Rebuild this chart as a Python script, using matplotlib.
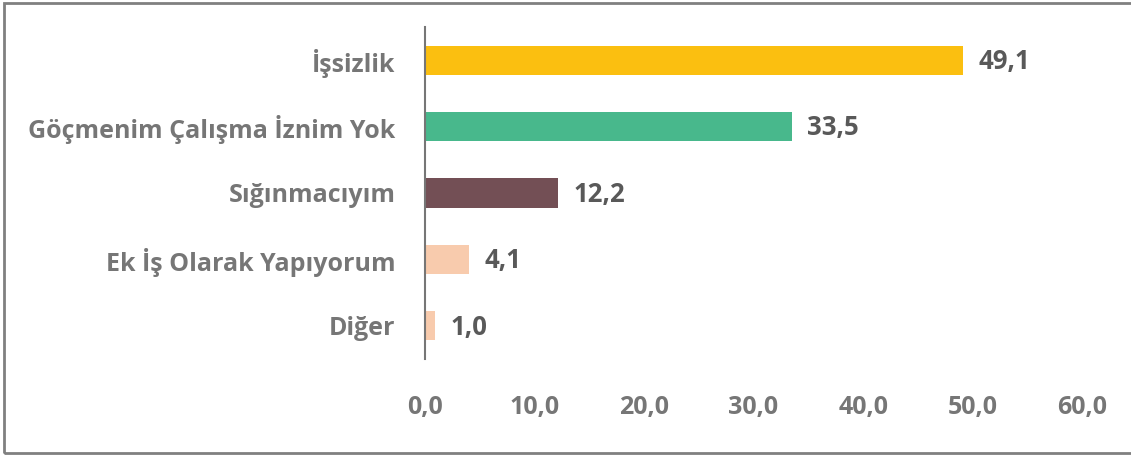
import matplotlib.pyplot as plt
from matplotlib.patches import Rectangle

# data
categories = ["İşsizlik", "Göçmenim Çalışma İznim Yok", "Sığınmacıyım",
              "Ek İş Olarak Yapıyorum", "Diğer"]
values = [49.1, 33.5, 12.2, 4.1, 1.0]
colors = ["#FBBF10", "#48B88C", "#734F55", "#F8CBAD", "#F8CBAD"]
xticks = [0, 10, 20, 30, 40, 50, 60]

plt.rcParams['font.family'] = ['Open Sans', 'DejaVu Sans']

fig = plt.figure(figsize=(11.31, 4.55), dpi=100)
ax = fig.add_axes([424.5 / 1131, 1 - 359 / 455, (1082.5 - 424.5) / 1131, (359 - 27) / 455])

ypos = list(range(len(categories)))
ax.barh(ypos, values, height=0.44, color=colors)
ax.set_ylim(len(categories) - 0.5, -0.5)
ax.set_xlim(0, 60)

for y, v in zip(ypos, values):
    ax.annotate(f"{v:.1f}".replace(".", ","), (v, y), xytext=(11, -1),
                textcoords="offset points", va="center", ha="left",
                fontsize=18.5, fontweight="bold", color="#595959")

ax.set_yticks(ypos)
ax.set_yticklabels(categories, fontsize=18, fontweight="bold", color="#767676")
ax.set_xticks(xticks)
ax.set_xticklabels([f"{t:.1f}".replace(".", ",") for t in xticks],
                   fontsize=18, fontweight="bold", color="#767676")
ax.tick_params(axis="y", length=0, pad=21)
ax.tick_params(axis="x", length=0, pad=26)

for s in ["top", "right", "bottom"]:
    ax.spines[s].set_visible(False)
ax.spines["left"].set_color("#767676")
ax.spines["left"].set_linewidth(1.5)

# outer frame
fig.patches.append(Rectangle((4 / 1131, 2 / 455), 1130 / 1131, 450 / 455,
                             transform=fig.transFigure, fill=False,
                             edgecolor="#808080", linewidth=2))

fig.savefig("out.png", dpi=100)
